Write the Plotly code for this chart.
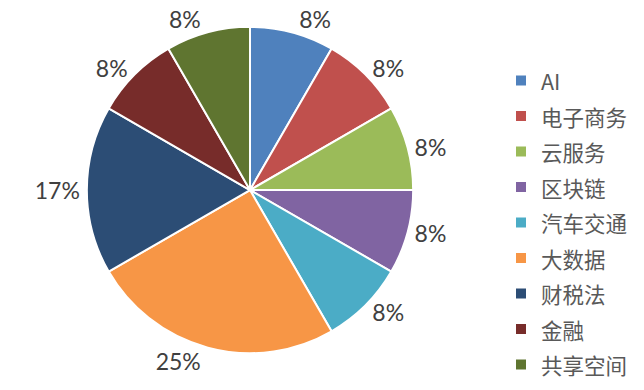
import plotly.graph_objects as go

labels = ["AI", "电子商务", "云服务", "区块链", "汽车交通", "大数据", "财税法", "金融", "共享空间"]
values = [1, 1, 1, 1, 1, 3, 2, 1, 1]
colors = ["#4F81BD", "#C0504D", "#9BBB59", "#8064A2", "#4BACC6",
          "#F79646", "#2C4D75", "#772C2A", "#5F7530"]

W, H = 644, 390
legend_names = [f"<span style='font-size:21.5px'>{n}</span>" for n in labels]

fig = go.Figure(go.Pie(
    labels=legend_names,
    values=values,
    sort=False,
    direction="clockwise",
    rotation=0,
    marker=dict(colors=colors, line=dict(color="white", width=2)),
    textinfo="percent",
    texttemplate="%{percent:.0%}",
    textposition="outside",
    outsidetextfont=dict(family="Lato, Open Sans, sans-serif", size=23, color="#404040"),
    domain=dict(x=[86 / W, 414 / W], y=[1 - 353 / H, 1 - 25 / H]),
    showlegend=True,
))

fig.update_layout(
    width=W, height=H,
    margin=dict(l=0, r=0, t=0, b=0),
    paper_bgcolor="white",
    plot_bgcolor="white",
    legend=dict(
        x=501 / W, xanchor="left",
        y=1 - 56 / H, yanchor="top",
        font=dict(family="Noto Sans CJK SC, sans-serif", size=25.0, color="#595959"),
        bgcolor="rgba(0,0,0,0)",
        traceorder="normal",
    ),
)

fig.write_html("out.html")
